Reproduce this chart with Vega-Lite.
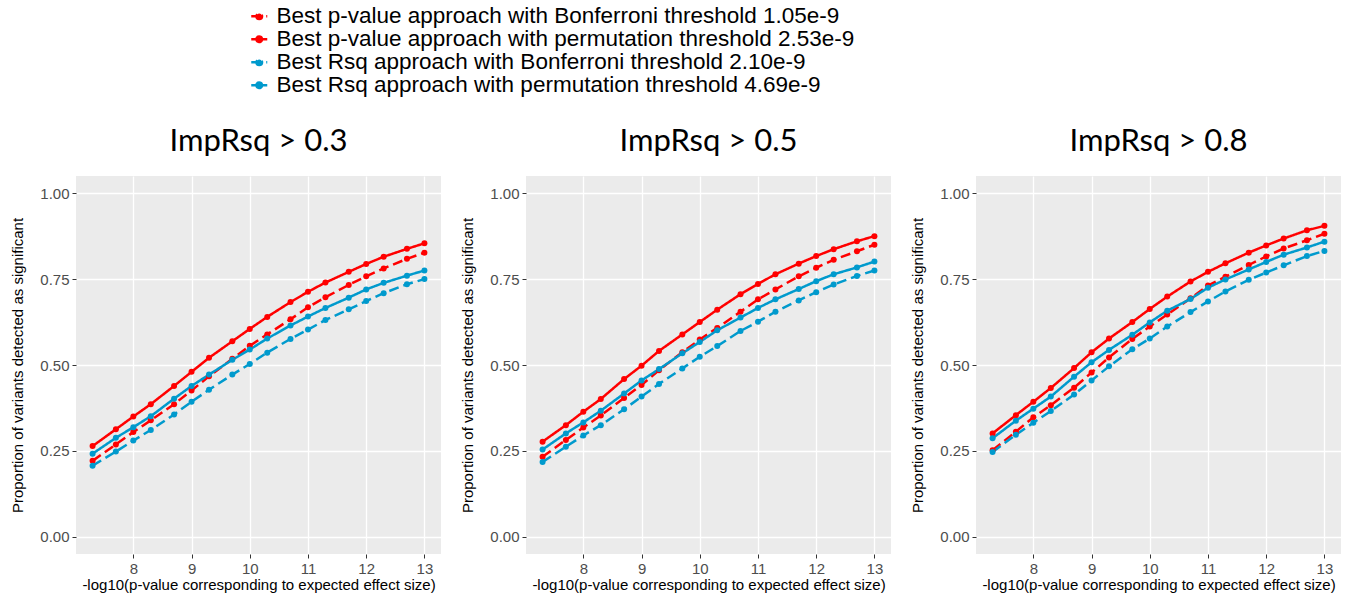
{
"$schema": "https://vega.github.io/schema/vega-lite/v6.json",
"padding": {"left": 10, "top": 5, "right": 5, "bottom": 5},
"background": "white",
"config": {
  "view": {"fill": "#EBEBEB", "stroke": null},
  "font": "Liberation Sans",
  "title": {"font": "Lato", "fontSize": 31, "fontWeight": "normal", "color": "black", "frame": "group", "anchor": "middle", "baseline": "alphabetic", "offset": 18},
  "axis": {"grid": true, "gridColor": "white", "domain": false, "tickColor": "#333333", "tickSize": 4, "tickWidth": 1, "labelColor": "#4D4D4D", "labelFont": "Liberation Sans", "labelFontSize": 15, "labelPadding": 3, "titleFont": "Liberation Sans", "titleFontSize": 15, "titleFontWeight": "normal", "titleColor": "black"}
},
"data": {"values": [
{"p":"0.3","s":"pB","x":7.3,"y":0.221},{"p":"0.3","s":"pB","x":7.7,"y":0.269},{"p":"0.3","s":"pB","x":8,"y":0.305},{"p":"0.3","s":"pB","x":8.3,"y":0.339},{"p":"0.3","s":"pB","x":8.7,"y":0.386},{"p":"0.3","s":"pB","x":9,"y":0.426},{"p":"0.3","s":"pB","x":9.3,"y":0.467},{"p":"0.3","s":"pB","x":9.7,"y":0.518},{"p":"0.3","s":"pB","x":10,"y":0.556},{"p":"0.3","s":"pB","x":10.3,"y":0.589},{"p":"0.3","s":"pB","x":10.7,"y":0.633},{"p":"0.3","s":"pB","x":11,"y":0.668},{"p":"0.3","s":"pB","x":11.3,"y":0.697},{"p":"0.3","s":"pB","x":11.7,"y":0.733},{"p":"0.3","s":"pB","x":12,"y":0.758},{"p":"0.3","s":"pB","x":12.3,"y":0.781},{"p":"0.3","s":"pB","x":12.7,"y":0.809},{"p":"0.3","s":"pB","x":13,"y":0.827},
{"p":"0.3","s":"pP","x":7.3,"y":0.264},{"p":"0.3","s":"pP","x":7.7,"y":0.313},{"p":"0.3","s":"pP","x":8,"y":0.350},{"p":"0.3","s":"pP","x":8.3,"y":0.386},{"p":"0.3","s":"pP","x":8.7,"y":0.439},{"p":"0.3","s":"pP","x":9,"y":0.480},{"p":"0.3","s":"pP","x":9.3,"y":0.521},{"p":"0.3","s":"pP","x":9.7,"y":0.569},{"p":"0.3","s":"pP","x":10,"y":0.605},{"p":"0.3","s":"pP","x":10.3,"y":0.640},{"p":"0.3","s":"pP","x":10.7,"y":0.683},{"p":"0.3","s":"pP","x":11,"y":0.713},{"p":"0.3","s":"pP","x":11.3,"y":0.740},{"p":"0.3","s":"pP","x":11.7,"y":0.771},{"p":"0.3","s":"pP","x":12,"y":0.794},{"p":"0.3","s":"pP","x":12.3,"y":0.815},{"p":"0.3","s":"pP","x":12.7,"y":0.838},{"p":"0.3","s":"pP","x":13,"y":0.854},
{"p":"0.3","s":"rB","x":7.3,"y":0.207},{"p":"0.3","s":"rB","x":7.7,"y":0.248},{"p":"0.3","s":"rB","x":8,"y":0.280},{"p":"0.3","s":"rB","x":8.3,"y":0.311},{"p":"0.3","s":"rB","x":8.7,"y":0.356},{"p":"0.3","s":"rB","x":9,"y":0.393},{"p":"0.3","s":"rB","x":9.3,"y":0.428},{"p":"0.3","s":"rB","x":9.7,"y":0.472},{"p":"0.3","s":"rB","x":10,"y":0.503},{"p":"0.3","s":"rB","x":10.3,"y":0.536},{"p":"0.3","s":"rB","x":10.7,"y":0.576},{"p":"0.3","s":"rB","x":11,"y":0.603},{"p":"0.3","s":"rB","x":11.3,"y":0.631},{"p":"0.3","s":"rB","x":11.7,"y":0.662},{"p":"0.3","s":"rB","x":12,"y":0.686},{"p":"0.3","s":"rB","x":12.3,"y":0.709},{"p":"0.3","s":"rB","x":12.7,"y":0.735},{"p":"0.3","s":"rB","x":13,"y":0.750},
{"p":"0.3","s":"rP","x":7.3,"y":0.242},{"p":"0.3","s":"rP","x":7.7,"y":0.288},{"p":"0.3","s":"rP","x":8,"y":0.319},{"p":"0.3","s":"rP","x":8.3,"y":0.351},{"p":"0.3","s":"rP","x":8.7,"y":0.402},{"p":"0.3","s":"rP","x":9,"y":0.439},{"p":"0.3","s":"rP","x":9.3,"y":0.472},{"p":"0.3","s":"rP","x":9.7,"y":0.515},{"p":"0.3","s":"rP","x":10,"y":0.545},{"p":"0.3","s":"rP","x":10.3,"y":0.577},{"p":"0.3","s":"rP","x":10.7,"y":0.615},{"p":"0.3","s":"rP","x":11,"y":0.641},{"p":"0.3","s":"rP","x":11.3,"y":0.666},{"p":"0.3","s":"rP","x":11.7,"y":0.696},{"p":"0.3","s":"rP","x":12,"y":0.720},{"p":"0.3","s":"rP","x":12.3,"y":0.739},{"p":"0.3","s":"rP","x":12.7,"y":0.760},{"p":"0.3","s":"rP","x":13,"y":0.775},
{"p":"0.5","s":"pB","x":7.3,"y":0.233},{"p":"0.5","s":"pB","x":7.7,"y":0.282},{"p":"0.5","s":"pB","x":8,"y":0.318},{"p":"0.5","s":"pB","x":8.3,"y":0.353},{"p":"0.5","s":"pB","x":8.7,"y":0.404},{"p":"0.5","s":"pB","x":9,"y":0.442},{"p":"0.5","s":"pB","x":9.3,"y":0.485},{"p":"0.5","s":"pB","x":9.7,"y":0.537},{"p":"0.5","s":"pB","x":10,"y":0.574},{"p":"0.5","s":"pB","x":10.3,"y":0.608},{"p":"0.5","s":"pB","x":10.7,"y":0.655},{"p":"0.5","s":"pB","x":11,"y":0.691},{"p":"0.5","s":"pB","x":11.3,"y":0.720},{"p":"0.5","s":"pB","x":11.7,"y":0.758},{"p":"0.5","s":"pB","x":12,"y":0.783},{"p":"0.5","s":"pB","x":12.3,"y":0.806},{"p":"0.5","s":"pB","x":12.7,"y":0.831},{"p":"0.5","s":"pB","x":13,"y":0.850},
{"p":"0.5","s":"pP","x":7.3,"y":0.277},{"p":"0.5","s":"pP","x":7.7,"y":0.325},{"p":"0.5","s":"pP","x":8,"y":0.364},{"p":"0.5","s":"pP","x":8.3,"y":0.401},{"p":"0.5","s":"pP","x":8.7,"y":0.459},{"p":"0.5","s":"pP","x":9,"y":0.498},{"p":"0.5","s":"pP","x":9.3,"y":0.541},{"p":"0.5","s":"pP","x":9.7,"y":0.589},{"p":"0.5","s":"pP","x":10,"y":0.625},{"p":"0.5","s":"pP","x":10.3,"y":0.661},{"p":"0.5","s":"pP","x":10.7,"y":0.706},{"p":"0.5","s":"pP","x":11,"y":0.736},{"p":"0.5","s":"pP","x":11.3,"y":0.764},{"p":"0.5","s":"pP","x":11.7,"y":0.795},{"p":"0.5","s":"pP","x":12,"y":0.817},{"p":"0.5","s":"pP","x":12.3,"y":0.837},{"p":"0.5","s":"pP","x":12.7,"y":0.860},{"p":"0.5","s":"pP","x":13,"y":0.875},
{"p":"0.5","s":"rB","x":7.3,"y":0.218},{"p":"0.5","s":"rB","x":7.7,"y":0.262},{"p":"0.5","s":"rB","x":8,"y":0.295},{"p":"0.5","s":"rB","x":8.3,"y":0.325},{"p":"0.5","s":"rB","x":8.7,"y":0.371},{"p":"0.5","s":"rB","x":9,"y":0.408},{"p":"0.5","s":"rB","x":9.3,"y":0.445},{"p":"0.5","s":"rB","x":9.7,"y":0.490},{"p":"0.5","s":"rB","x":10,"y":0.524},{"p":"0.5","s":"rB","x":10.3,"y":0.555},{"p":"0.5","s":"rB","x":10.7,"y":0.599},{"p":"0.5","s":"rB","x":11,"y":0.626},{"p":"0.5","s":"rB","x":11.3,"y":0.655},{"p":"0.5","s":"rB","x":11.7,"y":0.688},{"p":"0.5","s":"rB","x":12,"y":0.712},{"p":"0.5","s":"rB","x":12.3,"y":0.734},{"p":"0.5","s":"rB","x":12.7,"y":0.759},{"p":"0.5","s":"rB","x":13,"y":0.775},
{"p":"0.5","s":"rP","x":7.3,"y":0.254},{"p":"0.5","s":"rP","x":7.7,"y":0.301},{"p":"0.5","s":"rP","x":8,"y":0.333},{"p":"0.5","s":"rP","x":8.3,"y":0.367},{"p":"0.5","s":"rP","x":8.7,"y":0.417},{"p":"0.5","s":"rP","x":9,"y":0.455},{"p":"0.5","s":"rP","x":9.3,"y":0.488},{"p":"0.5","s":"rP","x":9.7,"y":0.534},{"p":"0.5","s":"rP","x":10,"y":0.567},{"p":"0.5","s":"rP","x":10.3,"y":0.601},{"p":"0.5","s":"rP","x":10.7,"y":0.638},{"p":"0.5","s":"rP","x":11,"y":0.666},{"p":"0.5","s":"rP","x":11.3,"y":0.691},{"p":"0.5","s":"rP","x":11.7,"y":0.721},{"p":"0.5","s":"rP","x":12,"y":0.744},{"p":"0.5","s":"rP","x":12.3,"y":0.764},{"p":"0.5","s":"rP","x":12.7,"y":0.784},{"p":"0.5","s":"rP","x":13,"y":0.801},
{"p":"0.8","s":"pB","x":7.3,"y":0.252},{"p":"0.8","s":"pB","x":7.7,"y":0.306},{"p":"0.8","s":"pB","x":8,"y":0.348},{"p":"0.8","s":"pB","x":8.3,"y":0.383},{"p":"0.8","s":"pB","x":8.7,"y":0.434},{"p":"0.8","s":"pB","x":9,"y":0.478},{"p":"0.8","s":"pB","x":9.3,"y":0.522},{"p":"0.8","s":"pB","x":9.7,"y":0.576},{"p":"0.8","s":"pB","x":10,"y":0.612},{"p":"0.8","s":"pB","x":10.3,"y":0.647},{"p":"0.8","s":"pB","x":10.7,"y":0.694},{"p":"0.8","s":"pB","x":11,"y":0.731},{"p":"0.8","s":"pB","x":11.3,"y":0.757},{"p":"0.8","s":"pB","x":11.7,"y":0.791},{"p":"0.8","s":"pB","x":12,"y":0.816},{"p":"0.8","s":"pB","x":12.3,"y":0.839},{"p":"0.8","s":"pB","x":12.7,"y":0.863},{"p":"0.8","s":"pB","x":13,"y":0.882},
{"p":"0.8","s":"pP","x":7.3,"y":0.301},{"p":"0.8","s":"pP","x":7.7,"y":0.354},{"p":"0.8","s":"pP","x":8,"y":0.393},{"p":"0.8","s":"pP","x":8.3,"y":0.433},{"p":"0.8","s":"pP","x":8.7,"y":0.491},{"p":"0.8","s":"pP","x":9,"y":0.537},{"p":"0.8","s":"pP","x":9.3,"y":0.577},{"p":"0.8","s":"pP","x":9.7,"y":0.625},{"p":"0.8","s":"pP","x":10,"y":0.663},{"p":"0.8","s":"pP","x":10.3,"y":0.699},{"p":"0.8","s":"pP","x":10.7,"y":0.743},{"p":"0.8","s":"pP","x":11,"y":0.771},{"p":"0.8","s":"pP","x":11.3,"y":0.796},{"p":"0.8","s":"pP","x":11.7,"y":0.827},{"p":"0.8","s":"pP","x":12,"y":0.848},{"p":"0.8","s":"pP","x":12.3,"y":0.868},{"p":"0.8","s":"pP","x":12.7,"y":0.892},{"p":"0.8","s":"pP","x":13,"y":0.905},
{"p":"0.8","s":"rB","x":7.3,"y":0.247},{"p":"0.8","s":"rB","x":7.7,"y":0.297},{"p":"0.8","s":"rB","x":8,"y":0.332},{"p":"0.8","s":"rB","x":8.3,"y":0.366},{"p":"0.8","s":"rB","x":8.7,"y":0.414},{"p":"0.8","s":"rB","x":9,"y":0.455},{"p":"0.8","s":"rB","x":9.3,"y":0.496},{"p":"0.8","s":"rB","x":9.7,"y":0.546},{"p":"0.8","s":"rB","x":10,"y":0.577},{"p":"0.8","s":"rB","x":10.3,"y":0.612},{"p":"0.8","s":"rB","x":10.7,"y":0.654},{"p":"0.8","s":"rB","x":11,"y":0.685},{"p":"0.8","s":"rB","x":11.3,"y":0.714},{"p":"0.8","s":"rB","x":11.7,"y":0.748},{"p":"0.8","s":"rB","x":12,"y":0.769},{"p":"0.8","s":"rB","x":12.3,"y":0.790},{"p":"0.8","s":"rB","x":12.7,"y":0.817},{"p":"0.8","s":"rB","x":13,"y":0.832},
{"p":"0.8","s":"rP","x":7.3,"y":0.287},{"p":"0.8","s":"rP","x":7.7,"y":0.338},{"p":"0.8","s":"rP","x":8,"y":0.373},{"p":"0.8","s":"rP","x":8.3,"y":0.408},{"p":"0.8","s":"rP","x":8.7,"y":0.466},{"p":"0.8","s":"rP","x":9,"y":0.508},{"p":"0.8","s":"rP","x":9.3,"y":0.544},{"p":"0.8","s":"rP","x":9.7,"y":0.588},{"p":"0.8","s":"rP","x":10,"y":0.624},{"p":"0.8","s":"rP","x":10.3,"y":0.658},{"p":"0.8","s":"rP","x":10.7,"y":0.692},{"p":"0.8","s":"rP","x":11,"y":0.725},{"p":"0.8","s":"rP","x":11.3,"y":0.749},{"p":"0.8","s":"rP","x":11.7,"y":0.778},{"p":"0.8","s":"rP","x":12,"y":0.800},{"p":"0.8","s":"rP","x":12.3,"y":0.821},{"p":"0.8","s":"rP","x":12.7,"y":0.842},{"p":"0.8","s":"rP","x":13,"y":0.859}
]},
"spacing": 85,
"bounds": "flush",
"resolve": {"scale": {"color": "shared", "strokeDash": "shared"}},
"hconcat": [
{
 "width": 365, "height": 378,
 "title": {"text": "ImpRsq > 0.3"},
 "transform": [{"filter": "datum.p == '0.3'"}],
 "encoding": {
  "color": {"field": "s", "type": "nominal", "scale": {"domain": ["pB","pP","rB","rP"], "range": ["#FF0000","#FF0000","#009ACD","#009ACD"]},
   "legend": {"orient": "none", "legendX": 172, "legendY": -171, "title": null, "labelFont": "Liberation Sans", "labelFontSize": 22.5, "labelColor": "black", "labelLimit": 0, "symbolType": "M-1,0H1M-0.35,0A0.35,0.35,0,1,0,0.35,0A0.35,0.35,0,1,0,-0.35,0", "symbolSize": 256, "symbolStrokeWidth": 2.5, "rowPadding": 0, "labelOffset": 6, "padding": 0,
    "labelExpr": "datum.label == 'pB' ? 'Best p-value approach with Bonferroni threshold 1.05e-9' : datum.label == 'pP' ? 'Best p-value approach with permutation threshold 2.53e-9' : datum.label == 'rB' ? 'Best Rsq approach with Bonferroni threshold 2.10e-9' : 'Best Rsq approach with permutation threshold 4.69e-9'",
    "encode": {"symbols": {"update": {"fill": {"scale": "color", "field": "value"}}}}}}
 },
 "layer": [
  {"mark": {"type": "line", "strokeWidth": 2.5},
   "encoding": {
    "x": {"field": "x", "type": "quantitative", "scale": {"domain": [7.015, 13.285], "nice": false, "zero": false}, "axis": {"orient": "bottom", "values": [8,9,10,11,12,13], "gridWidth": 1.3, "labelPadding": 3, "title": "-log10(p-value corresponding to expected effect size)", "titlePadding": 1}},
    "y": {"field": "y", "type": "quantitative", "scale": {"domain": [-0.05, 1.05], "nice": false, "zero": false}, "axis": {"orient": "left", "values": [0,0.25,0.5,0.75,1], "format": ".2f", "gridWidth": 1.3, "title": "Proportion of variants detected as significant", "titlePadding": 14}},
    "strokeDash": {"field": "s", "type": "nominal", "scale": {"domain": ["pB","pP","rB","rP"], "range": [[10,5],[1,0],[10,5],[1,0]]}, "legend": null}
   }},
  {"mark": {"type": "point", "filled": true, "size": 36, "opacity": 1},
   "encoding": {
    "x": {"field": "x", "type": "quantitative", "axis": {"orient": "top", "values": [7.5,8.5,9.5,10.5,11.5,12.5], "gridWidth": 0.6, "labels": false, "ticks": false, "title": null}},
    "y": {"field": "y", "type": "quantitative", "axis": {"orient": "right", "values": [0.125,0.375,0.625,0.875], "gridWidth": 0.6, "labels": false, "ticks": false, "title": null}}
   }}
 ],
 "resolve": {"axis": {"x": "independent", "y": "independent"}}
},
{
 "width": 365, "height": 378,
 "title": {"text": "ImpRsq > 0.5"},
 "transform": [{"filter": "datum.p == '0.5'"}],
 "encoding": {
  "color": {"field": "s", "type": "nominal", "scale": {"domain": ["pB","pP","rB","rP"], "range": ["#FF0000","#FF0000","#009ACD","#009ACD"]}}
 },
 "layer": [
  {"mark": {"type": "line", "strokeWidth": 2.5},
   "encoding": {
    "x": {"field": "x", "type": "quantitative", "scale": {"domain": [7.015, 13.285], "nice": false, "zero": false}, "axis": {"orient": "bottom", "values": [8,9,10,11,12,13], "gridWidth": 1.3, "labelPadding": 3, "title": "-log10(p-value corresponding to expected effect size)", "titlePadding": 1}},
    "y": {"field": "y", "type": "quantitative", "scale": {"domain": [-0.05, 1.05], "nice": false, "zero": false}, "axis": {"orient": "left", "values": [0,0.25,0.5,0.75,1], "format": ".2f", "gridWidth": 1.3, "title": "Proportion of variants detected as significant", "titlePadding": 14}},
    "strokeDash": {"field": "s", "type": "nominal", "scale": {"domain": ["pB","pP","rB","rP"], "range": [[10,5],[1,0],[10,5],[1,0]]}, "legend": null}
   }},
  {"mark": {"type": "point", "filled": true, "size": 36, "opacity": 1},
   "encoding": {
    "x": {"field": "x", "type": "quantitative", "axis": {"orient": "top", "values": [7.5,8.5,9.5,10.5,11.5,12.5], "gridWidth": 0.6, "labels": false, "ticks": false, "title": null}},
    "y": {"field": "y", "type": "quantitative", "axis": {"orient": "right", "values": [0.125,0.375,0.625,0.875], "gridWidth": 0.6, "labels": false, "ticks": false, "title": null}}
   }}
 ],
 "resolve": {"axis": {"x": "independent", "y": "independent"}}
},
{
 "width": 365, "height": 378,
 "title": {"text": "ImpRsq > 0.8"},
 "transform": [{"filter": "datum.p == '0.8'"}],
 "encoding": {
  "color": {"field": "s", "type": "nominal", "scale": {"domain": ["pB","pP","rB","rP"], "range": ["#FF0000","#FF0000","#009ACD","#009ACD"]}}
 },
 "layer": [
  {"mark": {"type": "line", "strokeWidth": 2.5},
   "encoding": {
    "x": {"field": "x", "type": "quantitative", "scale": {"domain": [7.015, 13.285], "nice": false, "zero": false}, "axis": {"orient": "bottom", "values": [8,9,10,11,12,13], "gridWidth": 1.3, "labelPadding": 3, "title": "-log10(p-value corresponding to expected effect size)", "titlePadding": 1}},
    "y": {"field": "y", "type": "quantitative", "scale": {"domain": [-0.05, 1.05], "nice": false, "zero": false}, "axis": {"orient": "left", "values": [0,0.25,0.5,0.75,1], "format": ".2f", "gridWidth": 1.3, "title": "Proportion of variants detected as significant", "titlePadding": 14}},
    "strokeDash": {"field": "s", "type": "nominal", "scale": {"domain": ["pB","pP","rB","rP"], "range": [[10,5],[1,0],[10,5],[1,0]]}, "legend": null}
   }},
  {"mark": {"type": "point", "filled": true, "size": 36, "opacity": 1},
   "encoding": {
    "x": {"field": "x", "type": "quantitative", "axis": {"orient": "top", "values": [7.5,8.5,9.5,10.5,11.5,12.5], "gridWidth": 0.6, "labels": false, "ticks": false, "title": null}},
    "y": {"field": "y", "type": "quantitative", "axis": {"orient": "right", "values": [0.125,0.375,0.625,0.875], "gridWidth": 0.6, "labels": false, "ticks": false, "title": null}}
   }}
 ],
 "resolve": {"axis": {"x": "independent", "y": "independent"}}
}
]
}
